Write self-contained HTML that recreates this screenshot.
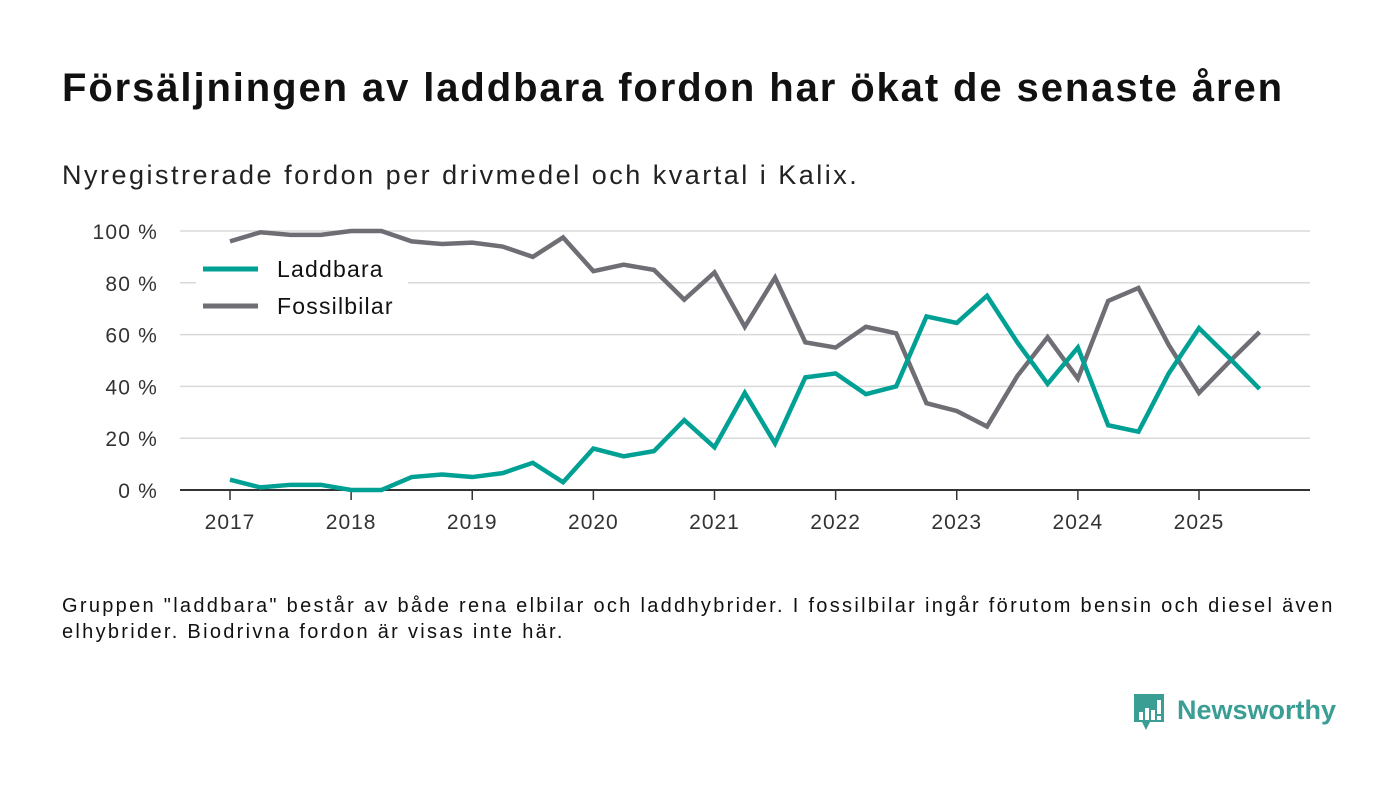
<!DOCTYPE html>
<html><head><meta charset="utf-8"><style>
body{margin:0;width:1400px;height:793px;background:#fff;font-family:"Liberation Sans","DejaVu Sans",sans-serif;overflow:hidden;position:relative;color:#111}
.t{position:absolute;left:62px;top:66px;font-size:40px;font-weight:bold;color:#111;letter-spacing:1.9px;white-space:nowrap}
.s{position:absolute;left:62px;top:160px;font-size:27px;color:#222;letter-spacing:2.5px;white-space:nowrap}
.n{position:absolute;left:62px;top:593px;font-size:20px;line-height:26px;color:#111;width:1310px;letter-spacing:2.3px}
.logo{position:absolute;left:1132px;top:692px}
</style></head><body>
<div class="t">Försäljningen av laddbara fordon har ökat de senaste åren</div>
<div class="s">Nyregistrerade fordon per drivmedel och kvartal i Kalix.</div>
<svg id="c" width="1400" height="793" style="position:absolute;left:0;top:0"></svg>
<div class="n">Gruppen "laddbara" består av både rena elbilar och laddhybrider. I fossilbilar ingår förutom bensin och diesel även elhybrider. Biodrivna fordon är visas inte här.</div>
<div class="logo">
<svg width="210" height="44"><path d="M2 2h30v28h-14l-4 8-4-8h-8z" fill="#3a9e94"/><rect x="7" y="20" width="4" height="8" fill="#fff"/><rect x="13" y="16" width="4" height="12" fill="#fff"/><rect x="19" y="18" width="4" height="10" fill="#fff"/><rect x="25" y="8" width="4" height="14" fill="#fff"/><rect x="25" y="24" width="4" height="4" fill="#fff"/>
<text x="45" y="27" font-size="27" font-weight="bold" fill="#3a9e94" font-family="Liberation Sans,sans-serif">Newsworthy</text></svg></div>
<script>
const years=["2017","2018","2019","2020","2021","2022","2023","2024","2025"];
const yTicks=[0,20,40,60,80,100];
const laddbara=[4,1,2,2,0,0,5,6,5,6.5,10.5,3,16,13,15,27,16.5,37.5,18,43.5,45,37,40,67,64.5,75,57,41,55,25,22.5,45,62.5,51,39];
const fossil=[96,99.5,98.5,98.5,100,100,96,95,95.5,94,90,97.5,84.5,87,85,73.5,84,63,82,57,55,63,60.5,33.5,30.5,24.5,44,59,43,73,78,56,37.5,49.5,61];
const svg=document.getElementById('c');const NS='http://www.w3.org/2000/svg';
const x=i=>230+i*(1199-230)/32;const y=v=>490-v*2.59;
function mk(t,a){const e=document.createElementNS(NS,t);for(const k in a)e.setAttribute(k,a[k]);svg.appendChild(e);return e;}
yTicks.forEach(v=>{if(v>0){const g=mk('line',{x1:180,x2:1310,y1:y(v),y2:y(v),stroke:'#d9d9d9','stroke-width':1.5});

}
const t=mk('text',{x:158,y:y(v)+8,'text-anchor':'end','font-size':21,fill:'#333','letter-spacing':1.2});t.textContent=v+' %';

});
years.forEach((yr,i)=>{const xx=x(i*4);const l=mk('line',{x1:xx,x2:xx,y1:490,y2:500,stroke:'#333','stroke-width':1.5});


const t=mk('text',{x:xx,y:529,'text-anchor':'middle','font-size':21,fill:'#333','letter-spacing':1});t.textContent=yr;

});
const ax=mk('line',{x1:180,x2:1310,y1:490,y2:490,stroke:'#333','stroke-width':2});


function line(d,c,n){const p=mk('polyline',{points:d.map((v,i)=>x(i)+','+y(v)).join(' '),fill:'none',stroke:c,'stroke-width':4.5,'stroke-linejoin':'miter'});

}
line(fossil,'#6f6e75','fossil-line');line(laddbara,'#00a194','laddbara-line');
const bg=mk('rect',{x:196,y:250,width:212,height:78,fill:'#fff'});


[['Laddbara','#00a194',269],['Fossilbilar','#6f6e75',306]].forEach(([n,c,yy])=>{
const l=mk('line',{x1:203,x2:258,y1:yy,y2:yy,stroke:c,'stroke-width':5});


const t=mk('text',{x:277,y:yy+8,'font-size':23,fill:'#111','letter-spacing':1.2});t.textContent=n;

});
</script>
</body></html>
